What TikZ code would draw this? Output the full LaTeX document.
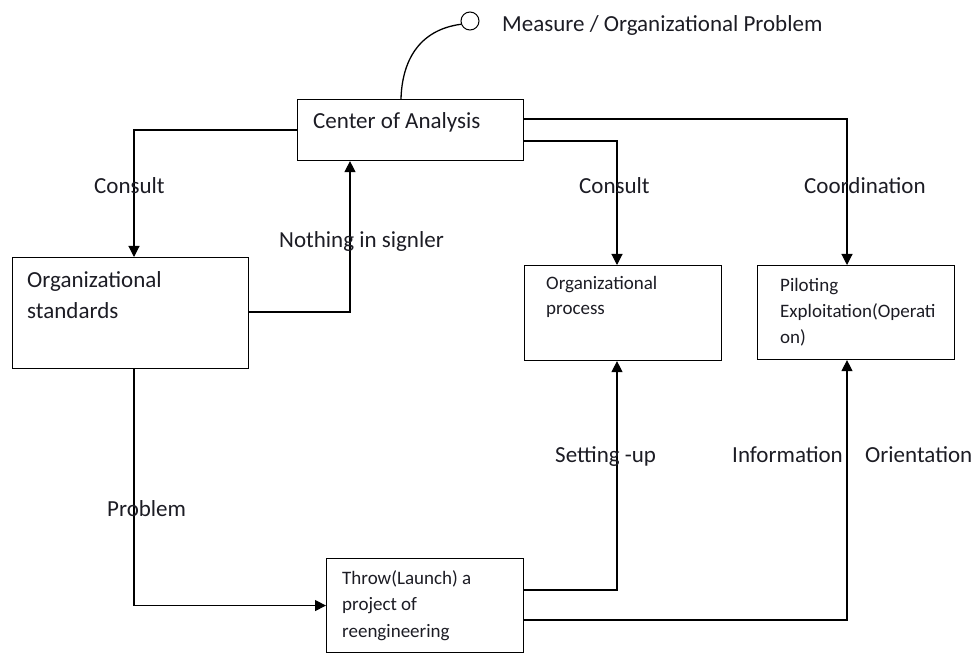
\documentclass[tikz,border=0pt]{standalone}
\usepackage{fontspec}
\setmainfont{Carlito}
\usetikzlibrary{arrows.meta,calc}
\definecolor{ink}{HTML}{1C1C24}

\begin{document}
\begin{tikzpicture}[x=1pt,y=-1pt,
  box/.style={draw, line width=1.1pt, inner sep=0pt, anchor=north west},
  % multi-line texts are placed by the baseline of their last line
  boxtext/.style={anchor=base west, inner sep=0pt, align=left, text=ink,
    font=\fontsize{19}{26.5}\selectfont},
  bigtext/.style={anchor=base west, inner sep=0pt, align=left, text=ink,
    font=\fontsize{23}{32}\selectfont},
  lbl/.style={anchor=base west, inner sep=0pt, text=ink,
    font=\fontsize{23}{28}\selectfont},
  conn/.style={line width=1.1pt, -{Triangle[length=11pt,width=11pt]}},
  heavy/.style={line width=2.3pt, shorten >=10pt},
]
\useasboundingbox (0,0) rectangle (978,655);

% boxes
\node[box, minimum width=226pt, minimum height=61pt] (center) at (297,99) {};
\node[box, minimum width=236pt, minimum height=111pt] (standards) at (12,257) {};
\node[box, minimum width=197pt, minimum height=95pt] (process) at (524,265) {};
\node[box, minimum width=197pt, minimum height=94pt] (piloting) at (757,265) {};
\node[box, minimum width=197pt, minimum height=94pt] (throw) at (326,558) {};

% box texts
\node[bigtext] (centertxt) at (313,129) {Center of Analysis};
\node[bigtext] (standardstxt) at (27,319) {Organizational\\standards};
\node[boxtext, font=\fontsize{19}{25}\selectfont] (processtxt) at (546,315) {Organizational\\process};
\node[boxtext] (pilotingtxt) at (780,344) {Piloting\\Exploitation(Operati\\on)};
\node[boxtext] (throwtxt) at (342,637) {Throw(Launch) a\\project of\\reengineering};

% start symbol
\node[draw, circle, line width=1pt, minimum size=18pt, inner sep=0pt] (start) at (470,21) {};
\node[lbl] (measure) at (502,32) {Measure / Organizational Problem};
\draw[line width=1.3pt] (start.200) .. controls (418,30) and (402,62) .. ($(center.north west)+(104,0)$);

% connector points
\coordinate (ca1) at ($(center.north east)+(0,20)$);
\coordinate (ca2) at ($(center.north east)+(0,42)$);
\coordinate (pin) at ($(process.north west)+(93,0)$);
\coordinate (pout) at ($(process.south west)+(93,0)$);
\coordinate (lin) at ($(piloting.north west)+(90,0)$);
\coordinate (lout) at ($(piloting.south west)+(90,0)$);
\coordinate (t1) at ($(throw.north east)+(0,32)$);
\coordinate (t2) at ($(throw.north east)+(0,62)$);
\coordinate (sin) at ($(standards.north west)+(122,0)$);
\coordinate (sout) at ($(standards.south west)+(122,0)$);
\coordinate (sr) at ($(standards.north east)+(0,55)$);
\coordinate (cin) at ($(center.south west)+(53,0)$);

% connectors
\draw[conn] (center.west) -| (sin);
\draw[conn] (sr) -| (cin);
\draw[conn] (sout) |- (throw.west);
\draw[conn] (ca2) -| (pin);
\draw[heavy] (ca2 -| pin) -- (pin);
\draw[conn] (ca1) -| (lin);
\draw[heavy] (ca1 -| lin) -- (lin);
\draw[conn] (t1) -| (pout);
\draw[heavy] (t1 -| pout) -- (pout);
\draw[conn] (t2) -| (lout);
\draw[heavy] (t2 -| lout) -- (lout);

% connector labels
\node[lbl] (l1) at (94,194) {Consult};
\node[lbl] (l2) at (279,248) {Nothing in signler};
\node[lbl] (l3) at (579,194) {Consult};
\node[lbl] (l4) at (804,194) {Coordination};
\node[lbl] (l5) at (555,462) {Setting -up};
\node[lbl] (l6) at (732,462) {Information};
\node[lbl] (l7) at (865,462) {Orientation};
\node[lbl] (l8) at (107,516) {Problem};
\end{tikzpicture}
\end{document}
